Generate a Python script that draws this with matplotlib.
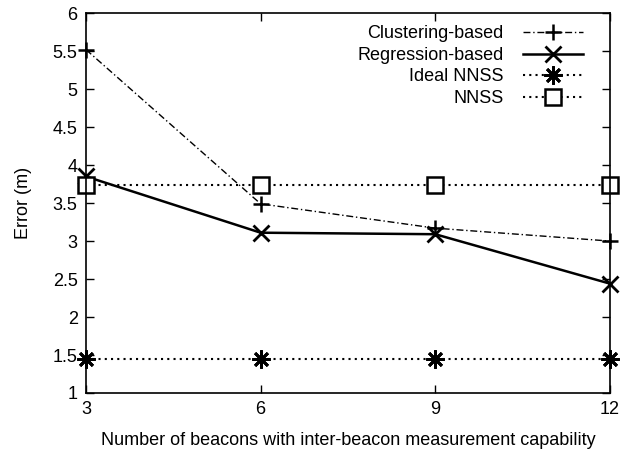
import matplotlib.pyplot as plt

# ===== DONNÉES =====
beacons = [3, 6, 9, 12]
clustering = [5.52, 3.49, 3.17, 3.00]
regression = [3.85, 3.11, 3.09, 2.44]
ideal_nnss = [1.45, 1.45, 1.45, 1.45]
nnss = [3.74, 3.74, 3.74, 3.74]

plt.rcParams['font.family'] = ['Liberation Sans', 'DejaVu Sans']
plt.rcParams['font.size'] = 13

fig = plt.figure(figsize=(6.21, 4.54), dpi=100)
ax = fig.add_axes([0.1385, 0.1344, 0.8435, 0.8366])

ax.plot(beacons, clustering, color='black', lw=1.0, ls=(0, (5, 2, 1, 2)),
        marker='+', ms=12, mew=1.8, label='Clustering-based', clip_on=False)
ax.plot(beacons, regression, color='black', lw=1.8, ls='-',
        marker='x', ms=11, mew=2.0, label='Regression-based', clip_on=False)
ax.plot(beacons, ideal_nnss, color='black', lw=1.5, ls=(0, (1, 2)),
        marker=(8, 2, 0), ms=13, mew=2.0, label='Ideal NNSS', clip_on=False)
ax.plot(beacons, nnss, color='black', lw=1.5, ls=(0, (1, 2)),
        marker='s', ms=11, mew=1.8, mfc='white', label='NNSS', clip_on=False)

ax.set_xlim(3, 12)
ax.set_ylim(1, 6)
ax.set_xticks(beacons)
ax.set_yticks([1, 1.5, 2, 2.5, 3, 3.5, 4, 4.5, 5, 5.5, 6])
ax.set_yticklabels(['1', '1.5', '2', '2.5', '3', '3.5', '4', '4.5', '5', '5.5', '6'])
ax.tick_params(direction='in', top=True, right=True, length=6, width=1, pad=6)
for s in ax.spines.values():
    s.set_linewidth(1.2)

ax.set_xlabel('Number of beacons with inter-beacon measurement capability', labelpad=10)
ax.set_ylabel('Error (m)', labelpad=15)

leg = ax.legend(loc='upper right', bbox_to_anchor=(0.962, 0.987), frameon=False,
                markerfirst=False, handlelength=3.3, handletextpad=1.1,
                labelspacing=0.25, borderaxespad=0, borderpad=0.4)
# texte aligné à droite comme dans gnuplot
for col in leg._legend_box.get_children()[1].get_children():
    col.align = 'right'

plt.savefig('out.png', dpi=100)
